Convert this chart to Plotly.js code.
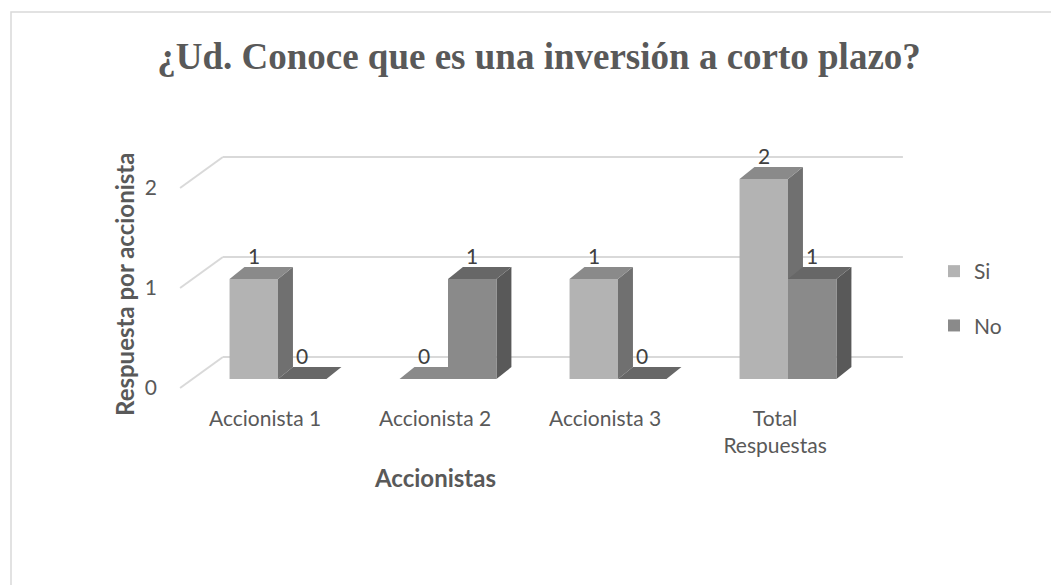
<!DOCTYPE html>
<html><head><meta charset="utf-8">
<script src="https://cdn.plot.ly/plotly-3.0.1.min.js"></script>
<style>html,body{margin:0;padding:0;background:#fff}</style>
</head><body><div id="chart" style="width:1051px;height:585px"></div>
<script>
// ---- data ----
const chartTitle = '¿Ud. Conoce que es una inversión a corto plazo?';
const categories = ['Accionista 1', 'Accionista 2', 'Accionista 3', 'Total<br>Respuestas'];
const seriesNames = ['Si', 'No'];
const siValues = [1, 0, 1, 2];
const noValues = [0, 1, 0, 1];
const yTickValues = [0, 1, 2];
const xAxisTitle = 'Accionistas';
const yAxisTitle = 'Respuesta por accionista';

// ---- layout / style constants ----
const W = 1051, H = 585;
const M = {l: 176, r: 144, t: 119, b: 181};
const X_RANGE = [-0.6, 3.7], Y_RANGE = [-0.25, 2.6];
const BAR_W = 0.285;
const BAR_DX = 0.088, BAR_DY = 0.12;      // depth of each bar
const WALL_DX = 0.176, WALL_DY = 0.22;    // bar plane -> back wall
const FLOOR_DX = -0.076, FLOOR_DY = -0.09; // bar plane -> front edge
const LABEL_SHIFT = -0.076;
const TXT = '#595959';
const FONT = 'Lato, "Open Sans", sans-serif';
const colors = {
  Si: {front: '#b3b3b3', top: '#8a8a8a', side: '#707070'},
  No: {front: '#8a8a8a', top: '#676767', side: '#595959'}
};
const GRID = '#d9d9d9';

const plotW = W - M.l - M.r, plotH = H - M.t - M.b;
const px2paperX = p => (p - M.l) / plotW;
const px2paperY = p => (H - M.b - p) / plotH;

const series = [
  {name: seriesNames[0], values: siValues, offset: -BAR_W / 2},
  {name: seriesNames[1], values: noValues, offset: BAR_W / 2}
];

const traces = series.map(s => ({
  type: 'bar',
  name: s.name,
  legendgroup: s.name,
  x: categories.map((c, i) => i + s.offset),
  y: s.values,
  width: BAR_W,
  marker: {color: colors[s.name].front, line: {width: 0}},
  hoverinfo: 'skip'
}));

const shapes = [];
// chart border
shapes.push({type: 'rect', xref: 'paper', yref: 'paper',
  x0: px2paperX(11), x1: px2paperX(1070), y0: px2paperY(600), y1: px2paperY(12),
  line: {color: GRID, width: 1.5}, fillcolor: 'rgba(0,0,0,0)', layer: 'below'});
// back wall gridlines + side diagonals
yTickValues.forEach(v => {
  shapes.push({type: 'line', xref: 'x', yref: 'y', layer: 'below',
    x0: -0.5 + FLOOR_DX, y0: v + FLOOR_DY, x1: -0.5 + WALL_DX, y1: v + WALL_DY,
    line: {color: GRID, width: 2}});
  shapes.push({type: 'line', xref: 'x', yref: 'y', layer: 'below',
    x0: -0.5 + WALL_DX, y0: v + WALL_DY, x1: categories.length - 0.5 + WALL_DX, y1: v + WALL_DY,
    line: {color: GRID, width: 2}});
});
// 3D faces (side + top) for each bar
const P = (x, y) => x + ',' + y;
series.forEach(s => {
  s.values.forEach((v, i) => {
    const x0 = i + s.offset - BAR_W / 2, x1 = i + s.offset + BAR_W / 2;
    if (v > 0) {
      shapes.push({type: 'path', xref: 'x', yref: 'y', layer: 'below',
        path: 'M' + P(x1, 0) + 'L' + P(x1, v) + 'L' + P(x1 + BAR_DX, v + BAR_DY) + 'L' + P(x1 + BAR_DX, BAR_DY) + 'Z',
        fillcolor: colors[s.name].side, line: {width: 0}});
    }
    shapes.push({type: 'path', xref: 'x', yref: 'y', layer: 'below',
      path: 'M' + P(x0, v) + 'L' + P(x1, v) + 'L' + P(x1 + BAR_DX, v + BAR_DY) + 'L' + P(x0 + BAR_DX, v + BAR_DY) + 'Z',
      fillcolor: colors[s.name].top, line: {width: 0}});
  });
});

const annotations = [];
series.forEach(s => {
  s.values.forEach((v, i) => {
    annotations.push({xref: 'x', yref: 'y', x: i + s.offset, y: v, yshift: 24,
      text: String(v), showarrow: false, xanchor: 'center', yanchor: 'middle',
      font: {family: FONT, size: 21, color: '#404040'}});
  });
});
annotations.push({xref: 'paper', yref: 'paper', x: px2paperX(435), y: px2paperY(477),
  text: xAxisTitle, showarrow: false, xanchor: 'center', yanchor: 'middle',
  font: {family: FONT, size: 24, color: TXT, weight: 700}});
annotations.push({xref: 'paper', yref: 'paper', x: px2paperX(124), y: px2paperY(285),
  text: yAxisTitle, showarrow: false, textangle: -90, xanchor: 'center', yanchor: 'middle',
  font: {family: FONT, size: 24, color: TXT, weight: 700}});

const layout = {
  width: W, height: H,
  margin: M,
  paper_bgcolor: '#ffffff', plot_bgcolor: '#ffffff',
  barmode: 'overlay',
  showlegend: true,
  title: {text: chartTitle, x: 539 / W, xref: 'container', xanchor: 'center',
    y: 1 - 56 / H, yref: 'container', yanchor: 'middle',
    font: {family: '"Liberation Serif", "Times New Roman", serif', size: 37, color: TXT, weight: 700}},
  xaxis: {range: X_RANGE, showgrid: false, zeroline: false, showline: false, ticks: '',
    tickvals: categories.map((c, i) => i + LABEL_SHIFT), ticktext: categories,
    tickfont: {family: FONT, size: 21, color: TXT}, fixedrange: true},
  yaxis: {range: Y_RANGE, showgrid: false, zeroline: false, showline: false, ticks: '',
    tickvals: yTickValues.map(v => v + FLOOR_DY), ticktext: yTickValues.map(String),
    ticklabelstandoff: 18,
    tickfont: {family: FONT, size: 21, color: TXT}, fixedrange: true},
  legend: {x: px2paperX(934), y: px2paperY(251), xanchor: 'left', yanchor: 'top',
    traceorder: 'grouped', tracegroupgap: 24, bgcolor: 'rgba(0,0,0,0)',
    font: {family: FONT, size: 21, color: TXT}},
  shapes: shapes,
  annotations: annotations
};

Plotly.newPlot('chart', traces, layout, {displayModeBar: false, staticPlot: true});
</script>
</body></html>
